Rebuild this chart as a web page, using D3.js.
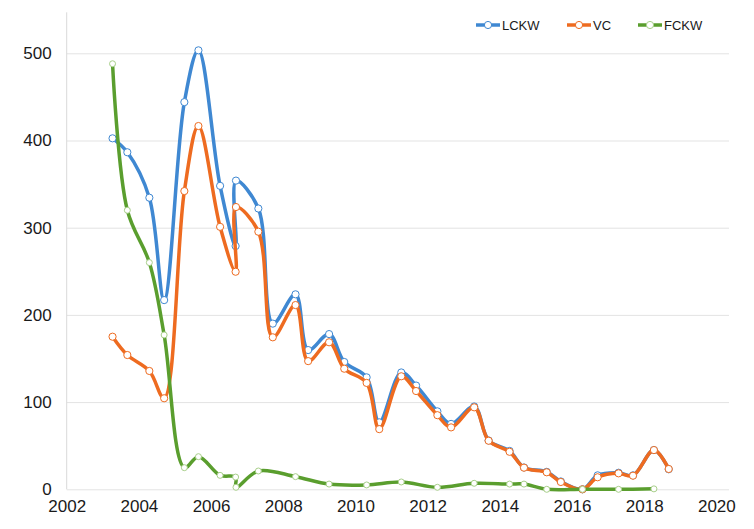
<!DOCTYPE html>
<html>
<head>
<meta charset="utf-8">
<script src="https://cdn.jsdelivr.net/npm/d3@7"></script>
<style>
  body { margin:0; background:#fff; }
  text { font-family: "Liberation Sans", Arial, sans-serif; }
</style>
</head>
<body>
<div id="canvas" class="canvas" style="width:754px;height:529px;"></div>
<script>
// sampling dates (decimal years, spring and autumn)
var dates = [2003.27, 2003.68, 2004.29, 2004.70, 2005.26, 2005.65, 2006.25, 2006.68, 2006.69, 2007.31,
             2007.71, 2008.34, 2008.69, 2009.27, 2009.69, 2010.31, 2010.66, 2011.27, 2011.68, 2012.27,
             2012.65, 2013.29, 2013.69, 2014.27, 2014.67, 2015.30, 2015.69, 2016.29, 2016.71, 2017.29,
             2017.69, 2018.27, 2018.68];

var lckw = [402.5, 386.5, 334.4, 217, 444, 503.4, 348, 279, 354, 322,
            190, 223.6, 159.7, 178, 146, 128.4, 76.8, 134, 119, 89.4,
            75, 95, 56, 44, 25, 20, 9, 0, 16, 19,
            16, 45, 23];

var vc = [175, 154, 135.7, 104.4, 342, 416.6, 301, 249.5, 323.7, 295.4,
          174.3, 211.3, 147, 168.6, 138.3, 122, 69, 129.6, 112.7, 85,
          71, 94, 55.7, 43, 24.8, 19.5, 8.4, 0, 13.8, 18.3,
          15.6, 45, 23.3];

var fckw = [488, 320, 260, 177, 24.8, 37.4, 16, 14, 2.3, 21,
            null, 14.5, null, 6, null, 5, null, 8.4, null, 2.3,
            null, 6.9, null, 6, 6, 0, null, 0, null, 0,
            null, 0.5, null];

var seriesNames = ['LCKW', 'VC', 'FCKW'];
var xTicks = [2002, 2004, 2006, 2008, 2010, 2012, 2014, 2016, 2018, 2020];
var yTicks = [0, 100, 200, 300, 400, 500];

var colors = {LCKW:'#3f88d2', VC:'#ee6b20', FCKW:'#5a9e2e'};
var markerStroke = {LCKW:'#3f88d2', VC:'#ee6b20', FCKW:'#a8cf8a'};

var outerWidth = 754, outerHeight = 529;

var svg = d3.select('.canvas')
    .append('svg')
    .attr('width', outerWidth)
    .attr('height', outerHeight);

var scaleX = d3.scaleLinear()
    .domain([2002, 2020.35])
    .range([66.7, 729]);

var scaleY = d3.scaleLinear()
    .domain([0, 550])
    .range([489.3, 9.7]);

// gridlines + y labels
var axisY = d3.axisLeft(scaleY)
    .tickValues(yTicks)
    .tickSize(-(scaleX.range()[1] - scaleX.range()[0]))
    .tickPadding(15);

var yNode = svg.append('g')
    .attr('class', 'axis')
    .attr('transform', 'translate(' + scaleX.range()[0] + ',0)')
    .call(axisY);
yNode.select('.domain').remove();
yNode.selectAll('line').attr('stroke', '#e3e3e3').attr('stroke-width', 1);
yNode.selectAll('text').attr('font-size', '17px').attr('fill', '#1a1a1a');

// vertical axis line
svg.append('line')
    .attr('x1', scaleX(2002)).attr('x2', scaleX(2002))
    .attr('y1', scaleY(547)).attr('y2', scaleY(0))
    .attr('stroke', '#d9d9d9');

var axisX = d3.axisBottom(scaleX)
    .tickValues(xTicks)
    .tickFormat(d3.format('d'))
    .tickSize(0)
    .tickPadding(11);

var xNode = svg.append('g')
    .attr('class', 'axis')
    .attr('transform', 'translate(0,' + scaleY(0) + ')')
    .call(axisX);
xNode.select('.domain').remove();
xNode.selectAll('text').attr('font-size', '17px').attr('fill', '#1a1a1a');

var data = {LCKW: lckw, VC: vc, FCKW: fckw};

var line = d3.line()
    .x(function(d){ return scaleX(d.t); })
    .y(function(d){ return scaleY(d.v); })
    .curve(d3.curveCatmullRom.alpha(0.5));

seriesNames.forEach(function(name){
    var pts = [];
    data[name].forEach(function(v, i){
        if (v != null) pts.push({t: dates[i], v: v});
    });

    svg.append('path')
        .datum(pts)
        .attr('d', line)
        .attr('fill', 'none')
        .attr('stroke', colors[name])
        .attr('stroke-width', 3.5)
        .attr('stroke-linejoin', 'round');

    svg.append('g').selectAll('circle')
        .data(pts)
        .enter().append('circle')
        .attr('cx', function(d){ return scaleX(d.t); })
        .attr('cy', function(d){ return scaleY(d.v); })
        .attr('r', name == 'FCKW' ? 3 : 3.6)
        .attr('fill', '#fff')
        .attr('stroke', markerStroke[name])
        .attr('stroke-width', 1);
});

// legend
var legendX = [476, 567, 638];
var legend = svg.append('g');
seriesNames.forEach(function(name, i){
    var g = legend.append('g').attr('transform', 'translate(' + legendX[i] + ',25)');
    g.append('line')
        .attr('x1', 0).attr('x2', 24)
        .attr('stroke', colors[name])
        .attr('stroke-width', 3.5);
    g.append('circle')
        .attr('cx', 12).attr('r', 3.6)
        .attr('fill', '#fff')
        .attr('stroke', markerStroke[name]);
    g.append('text')
        .attr('x', 26).attr('y', 5)
        .attr('font-size', '13px')
        .attr('fill', '#1a1a1a')
        .text(name);
});
</script>
</body>
</html>
